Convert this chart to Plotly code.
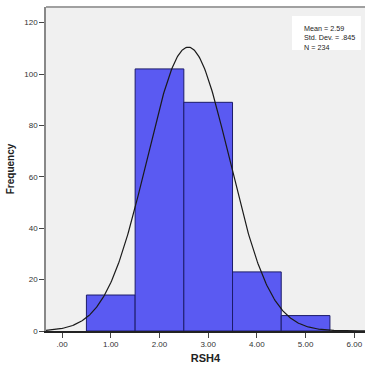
import numpy as np
import plotly.graph_objects as go

# Histogram of RSH4 (bin centres, bin counts)
bin_centers = [1, 2, 3, 4, 5]
bin_counts = [14, 102, 89, 23, 6]
bin_width = 1.0

# Summary statistics shown in the info box
mean_val = 2.59
std_val = 0.845
n_val = 234

x_ticks = [0, 1, 2, 3, 4, 5, 6]
x_tick_text = [".00", "1.00", "2.00", "3.00", "4.00", "5.00", "6.00"]
y_ticks = [0, 20, 40, 60, 80, 100, 120]

# Normal curve scaled to counts
xs = np.linspace(-0.33, 6.3, 400)
ys = n_val * bin_width / (std_val * np.sqrt(2 * np.pi)) * np.exp(-0.5 * ((xs - mean_val) / std_val) ** 2)

fig = go.Figure()
fig.add_trace(go.Bar(
    x=bin_centers, y=bin_counts, width=bin_width,
    marker=dict(color="#5a5af2", line=dict(color="#1c1c6a", width=1)),
    hoverinfo="skip",
))
fig.add_trace(go.Scatter(
    x=xs, y=ys, mode="lines",
    line=dict(color="#1a1a1a", width=1.2),
    hoverinfo="skip",
))

info_text = "<br>".join([
    f"Mean = {mean_val}",
    f"Std. Dev. = {str(std_val).lstrip('0')}",
    f"N = {n_val}",
])

fig.update_layout(
    width=365, height=369,
    margin=dict(l=46, r=0, t=7, b=38),
    paper_bgcolor="white",
    plot_bgcolor="#f0f0f0",
    showlegend=False,
    font=dict(family="Liberation Sans, Arial, sans-serif", color="#333333", size=8),
    shapes=[
        dict(type="line", xref="paper", yref="paper", x0=0, x1=1, y0=1, y1=1,
             line=dict(color="#a0a0a0", width=2)),
        dict(type="rect", xref="paper", yref="paper", x0=0.771, x1=0.987, y0=0.867, y1=0.972,
             fillcolor="white", line=dict(width=0), layer="above"),
    ],
    annotations=[dict(
        xref="paper", yref="paper", x=0.806, y=0.95, xanchor="left", yanchor="top",
        text=info_text, showarrow=False, align="left", borderpad=0,
        font=dict(size=7.2, color="#222222", family="Liberation Sans, Arial, sans-serif"),
    )],
)
fig.update_xaxes(
    range=[-0.33, 6.22], tickvals=x_ticks, ticktext=x_tick_text,
    showgrid=False, zeroline=False,
    showline=True, linecolor="#222222", linewidth=1.5,
    ticks="outside", ticklen=5, tickcolor="#444444",
    title=dict(text="<b>RSH4</b>", font=dict(size=11, color="#222222"), standoff=6),
)
fig.update_yaxes(
    range=[0, 126.1], tickvals=y_ticks,
    showgrid=False, zeroline=False,
    showline=True, linecolor="#888888", linewidth=1.5,
    ticks="outside", ticklen=5, tickcolor="#444444",
    title=dict(text="<b>Frequency</b>", font=dict(size=10, color="#222222"), standoff=8),
)

fig.write_html("out.html")
